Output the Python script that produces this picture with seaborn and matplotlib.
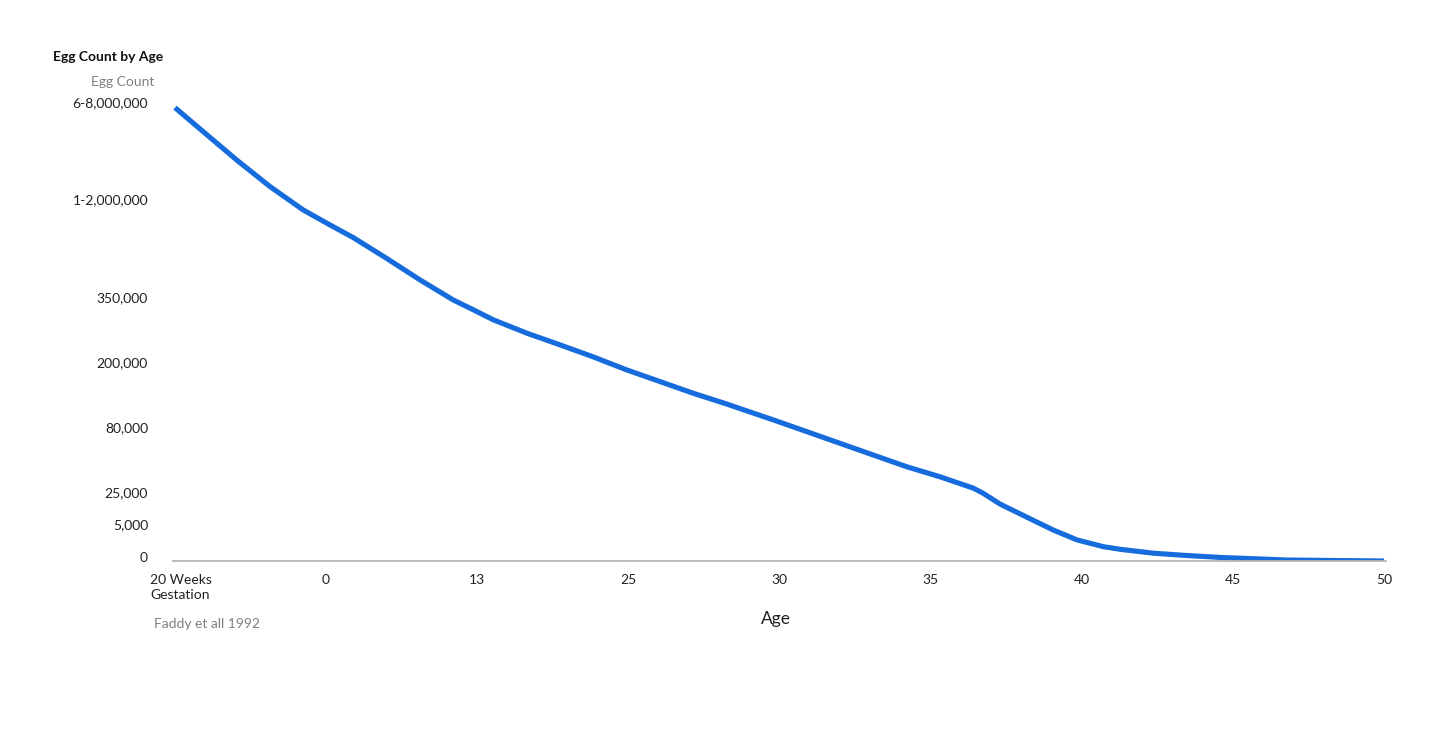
import numpy as np
import pandas as pd
import matplotlib
matplotlib.use("Agg")
import matplotlib.pyplot as plt
import matplotlib.transforms as mtransforms
import seaborn as sns

# x tick labels (evenly spaced categories on the age axis)
age_labels = ["20 Weeks\nGestation", "0", "13", "25", "30", "35", "40", "45", "50"]

# y axis is a stepped, non-linear scale: label -> level on the axis
count_labels = ["0", "5,000", "25,000", "80,000", "200,000", "350,000",
                "1-2,000,000", "6-8,000,000"]
count_levels = [0, 1, 2, 4, 6, 8, 11, 14]

# curve (x in age-label slots, y in scale levels)
age_pos = [0.000, 0.187, 0.408, 0.629, 0.849, 1.026, 1.180, 1.401, 1.621,
           1.842, 1.952, 2.107, 2.328, 2.548, 2.768, 2.989, 3.210, 3.430,
           3.651, 3.871, 3.960, 4.181, 4.401, 4.621, 4.842, 5.063, 5.283,
           5.349, 5.460, 5.592, 5.680, 5.813, 5.968, 6.144, 6.254, 6.474,
           6.691, 6.916, 7.357, 8.000]
egg_level = [13.95, 13.21, 12.34, 11.52, 10.80, 10.34, 9.95, 9.31, 8.65,
             8.03, 7.78, 7.42, 7.01, 6.65, 6.28, 5.88, 5.52, 5.16,
             4.83, 4.48, 4.34, 3.98, 3.62, 3.26, 2.90, 2.59, 2.24,
             2.08, 1.75, 1.45, 1.25, 0.95, 0.65, 0.44, 0.36, 0.24,
             0.17, 0.11, 0.03, 0.0]

df = pd.DataFrame({"age": age_pos, "eggs": egg_level})

sns.set_style("white")
plt.rcParams["font.family"] = ["Lato", "DejaVu Sans"]

W, H = 1456, 732
fig = plt.figure(figsize=(W / 100, H / 100), dpi=100)
unit = 32.5  # px per level
left_px, right_px, zero_px = 173, 1386, 561
ymax = 14.5
ax = fig.add_axes([left_px / W, 1 - zero_px / H,
                   (right_px - left_px) / W, ymax * unit / H])

sns.lineplot(data=df, x="age", y="eggs", ax=ax, color="#166CDC",
             linewidth=3.7, solid_capstyle="butt", solid_joinstyle="round")

ax.set_xlim(-0.013, 8.013)
ax.set_ylim(0, ymax)

ax.set_xticks(range(len(age_labels)))
ax.set_xticklabels(age_labels, fontsize=10, color="#222222", linespacing=1.35)
ax.set_yticks(count_levels)
ax.set_yticklabels(count_labels, fontsize=10, color="#222222")
ax.tick_params(axis="both", length=0)
ax.tick_params(axis="x", pad=9)
ax.tick_params(axis="y", pad=18)

# tick labels on y sit a little above their level
off = mtransforms.ScaledTranslation(0, 4 / 100, fig.dpi_scale_trans)
for lab in ax.get_yticklabels():
    lab.set_transform(lab.get_transform() + off)
first = ax.get_xticklabels()[0]
first.set_multialignment("left")
off_x = mtransforms.ScaledTranslation(6 / 100, 0, fig.dpi_scale_trans)
first.set_transform(first.get_transform() + off_x)

for s in ["top", "right", "left"]:
    ax.spines[s].set_visible(False)
ax.spines["bottom"].set_color("#b5b5b5")
ax.spines["bottom"].set_linewidth(1.3)

ax.set_xlabel("")
ax.set_ylabel("")

fig.text(53 / W, 1 - 57 / H, "Egg Count by Age", fontsize=10, fontweight="bold",
         color="#111111", va="center", ha="left")
fig.text(154 / W, 1 - 82 / H, "Egg Count", fontsize=10, color="#808080",
         va="center", ha="right")
fig.text(154 / W, 1 - 624 / H, "Faddy et all 1992", fontsize=10, color="#808080",
         va="center", ha="left")
fig.text(776 / W, 1 - 619 / H, "Age", fontsize=12.5, color="#222222",
         va="center", ha="center")

fig.savefig("out.png", dpi=100, facecolor="white")
